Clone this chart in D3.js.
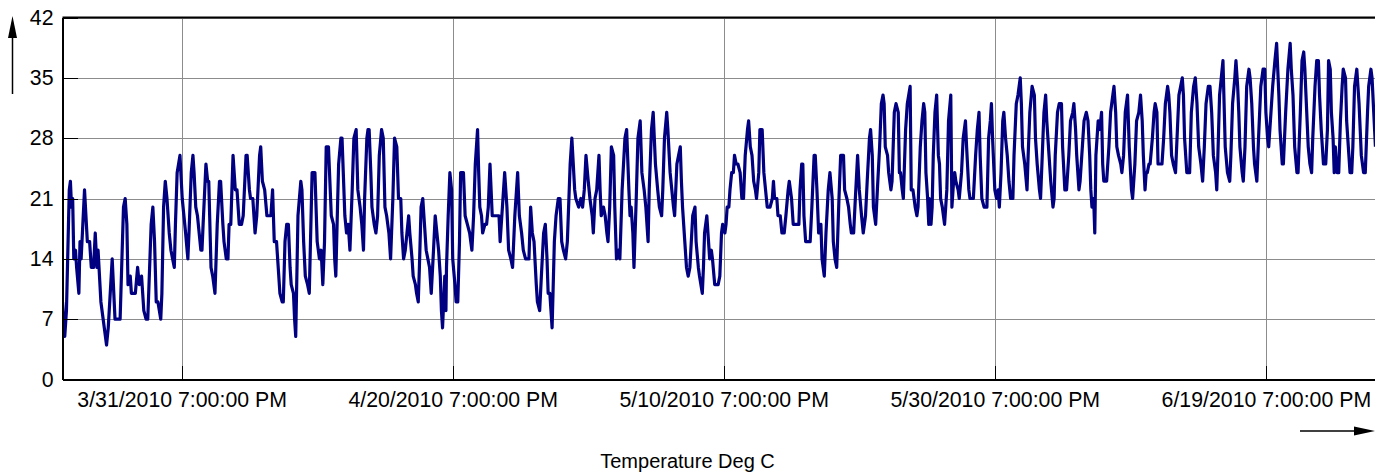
<!DOCTYPE html>
<html>
<head>
<meta charset="utf-8">
<title>Temperature Deg C</title>
<script src="https://cdnjs.cloudflare.com/ajax/libs/d3/7.8.5/d3.min.js"></script>
<style>
body { margin: 0; background: #fff; }
svg { display: block; font-family: "Liberation Sans", Arial, sans-serif; }
.grid line { stroke: #8c8c8c; stroke-width: 1; shape-rendering: crispEdges; }
.axis text { font-size: 21.3px; fill: #000; }
.axis .tick line { stroke: #000; stroke-width: 1; shape-rendering: crispEdges; }
.axis path.domain { stroke: #000; stroke-width: 2; }
</style>
</head>
<body>
<div id="chart"></div>
<script>

// time span of the record (UTC used so no DST shift)
var startTime = "2010-03-23T00:00";
var endTime = "2010-06-27T22:00";

var tickTimes = ["2010-03-31T19:00", "2010-04-20T19:00", "2010-05-10T19:00",
                 "2010-05-30T19:00", "2010-06-19T19:00"];
var yTicks = [0, 7, 14, 21, 28, 35, 42];
var axisTitle = "Temperature Deg C";

// [hours since startTime, deg C] (turning points)
var readings = [
  [0,9],[4,5],[7,8],[12,22],[14,23],[16,20],[18,21],[20,14],[23,15],[25,13],[29,10],[31,16],
  [33,14],[36,18],[39,22],[44,16],[48,16],[51,13],[55,13],[58,17],[61,13],[63,15],[68,9],
  [74,6],[78,4],[81,6],[88,14],[93,7],[102,7],[108,20],[111,21],[114,18],[116,11],[120,12],
  [122,10],[129,10],[133,13],[136,11],[140,12],[144,8],[148,7],[151,7],[157,18],[160,20],
  [163,16],[166,9],[169,9],[174,7],[176,10],[179,20],[182,23],[185,21],[189,17],[192,15],
  [195,14],[198,13],[200,18],[203,24],[208,26],[212,21],[215,19],[218,17],[222,14],[224,17],
  [228,24],[231,26],[233,24],[236,20],[239,19],[245,15],[247,15],[249,18],[254,25],[257,23],
  [259,23],[263,13],[266,12],[270,10],[272,14],[274,18],[278,23],[280,23],[284,18],[286,16],
  [290,14],[293,14],[295,18],[298,18],[302,26],[306,22],[309,22],[313,18],
  [317,18],[320,19],[325,26],[327,26],[331,22],[333,21],[337,21],[341,17],[344,19],[349,26],
  [351,27],[354,23],[358,22],[362,19],[369,19],[372,22],[375,16],[379,16],[383,12],[385,10],
  [389,9],[391,9],[394,16],[397,18],[400,18],[403,13],[405,11],[409,10],[411,7],[413,5],
  [417,19],[422,23],[424,22],[427,16],[430,12],[434,11],[437,10],[442,24],[447,24],[451,16],
  [455,14],[458,15],[461,11],[464,16],[467,27],[471,27],[476,19],[480,18],[482,14],[484,12],
  [487,20],[489,25],[493,28],[495,28],[500,19],[503,17],[506,18],[509,15],[513,22],[516,28],
  [520,29],[523,22],[527,20],[530,18],[533,15],[535,21],[539,28],[541,29],[543,29],[546,24],
  [548,20],[552,18],[555,17],[558,19],[561,26],[565,29],[568,28],[571,20],[574,19],[578,17],
  [581,14],[585,21],[588,28],[592,27],[595,21],[599,21],[601,17],[604,14],[607,15],[610,17],
  [613,19],[615,17],[619,14],[621,12],[625,11],[627,10],[630,9],[632,13],[635,20],[638,21],
  [640,19],[644,15],[647,14],[650,13],[653,10],[657,15],[660,19],[663,17],[666,15],[669,12],
  [671,8],[673,6],[677,12],[679,8],[680,13],[683,19],[686,24],[689,22],[691,14],[695,11],
  [697,9],[700,9],[703,16],[705,24],[710,24],
  [713,19],[717,18],[721,17],[725,15],[728,19],[731,25],[735,29],[737,24],[739,20],[742,19],
  [744,17],[748,18],[751,18],[754,20],[757,25],[761,19],[764,19],[769,19],[773,19],[775,16],
  [778,19],[783,24],[787,20],[790,15],[794,14],[797,13],[801,19],[806,24],[809,19],[813,17],
  [816,15],[820,14],[826,14],[829,20],[832,17],[835,16],[839,11],[841,9],[845,8],[848,12],
  [852,17],[855,18],[858,14],[860,10],[863,10],[867,6],[871,16],[874,19],[878,21],[881,21],
  [884,16],[887,15],[891,14],[894,16],[899,25],[902,28],[907,22],[909,21],[914,20],[918,21],
  [921,20],[924,22],[927,26],[931,23],[934,21],[938,19],[940,17],[943,21],[946,22],[950,26],
  [952,22],[954,19],[958,20],[961,19],[964,17],[966,16],[969,20],[972,27],[976,26],[978,20],
  [981,14],[985,15],[987,14],[991,22],[996,28],[999,29],[1003,22],[1005,19],[1007,20],
  [1010,17],[1012,13],[1016,21],[1019,28],[1023,30],[1026,24],[1030,22],[1033,20],[1037,16],
  [1039,22],[1043,29],[1046,31],[1050,25],[1054,22],[1057,20],[1061,19],[1063,22],[1066,28],
  [1070,31],[1072,29],[1076,24],[1079,22],[1082,20],[1084,19],[1088,25],[1091,26],[1094,27],
  [1096,23],[1098,20],[1102,16],[1105,13],[1108,12],[1111,13],[1116,19],[1120,20],[1122,16],
  [1126,13],[1128,12],
  [1133,10],[1135,13],[1137,17],[1141,19],[1143,17],[1146,14],[1149,15],[1151,14],[1155,11],
  [1161,11],[1164,12],[1167,17],[1169,18],[1173,17],[1175,18],[1177,20],[1180,20],[1182,22],
  [1185,24],[1188,24],[1190,26],[1193,25],[1196,25],[1200,24],[1203,21],[1206,21],[1209,26],
  [1213,29],[1215,30],[1218,27],[1221,26],[1224,23],[1227,22],[1229,21],[1233,24],[1235,29],
  [1239,29],[1242,24],[1245,22],[1248,20],[1253,20],[1257,21],[1259,23],[1261,21],[1265,21],
  [1267,19],[1271,19],[1274,17],[1278,17],[1281,19],[1285,22],[1287,23],[1291,21],[1294,18],
  [1304,18],[1306,22],[1309,25],[1311,25],[1313,19],[1316,16],[1324,16],[1327,20],[1331,26],
  [1333,26],[1336,22],[1339,17],[1343,18],[1345,14],[1349,12],[1352,17],[1356,22],[1359,24],
  [1363,21],[1365,16],[1368,14],[1371,13],[1375,21],[1378,26],[1383,26],[1385,22],[1389,21],
  [1392,20],[1395,18],[1397,17],[1401,17],[1404,21],[1408,26],[1411,22],[1415,19],[1418,17],
  [1422,19],[1425,23],[1429,28],[1431,29],[1434,26],[1436,20],[1440,18],[1443,22],[1447,27],
  [1450,32],[1453,33],[1455,32],[1457,27],[1461,26],[1463,24],[1467,22],[1469,23],[1473,31],
  [1476,32],[1480,31],[1482,24],[1484,24],[1487,22],[1489,21],[1493,29],[1496,32],[1501,34],
  [1503,22],[1506,22],[1508,21],[1510,20],[1513,19],[1515,20],[1519,27],[1522,30],[1525,32],
  [1527,31],[1529,24],[1532,21],[1534,18],
  [1535,21],[1538,18],[1540,20],[1542,26],[1545,31],[1548,33],[1551,26],[1553,25],[1555,21],
  [1558,20],[1560,19],[1562,18],[1566,22],[1569,30],[1573,33],[1575,20],[1578,23],[1580,24],
  [1582,23],[1586,22],[1588,21],[1592,24],[1595,28],[1599,30],[1601,27],[1605,22],[1607,21],
  [1613,21],[1617,26],[1620,29],[1623,31],[1625,26],[1628,21],[1632,20],[1637,20],[1640,28],
  [1643,30],[1645,32],[1647,28],[1651,22],[1654,21],[1657,22],[1659,20],[1662,24],[1665,30],
  [1667,31],[1670,28],[1673,26],[1676,23],[1679,21],[1683,21],[1685,26],[1689,32],[1692,33],
  [1696,35],[1698,32],[1700,27],[1704,25],[1708,22],[1710,26],[1713,31],[1717,34],[1721,33],
  [1723,28],[1726,25],[1730,22],[1732,21],[1735,26],[1738,31],[1741,33],[1743,30],[1747,26],
  [1750,23],[1754,20],[1756,21],[1758,26],[1762,31],[1765,32],[1769,32],[1771,27],[1775,22],
  [1778,22],[1782,26],[1785,30],[1789,31],[1791,32],[1794,29],[1796,26],[1800,22],[1802,23],
  [1806,27],[1809,30],[1813,31],[1816,30],[1819,26],[1821,22],[1823,20],[1826,21],[1828,17],
  [1830,26],[1834,30],[1837,29],[1840,31],[1842,25],[1844,23],[1849,23],[1853,27],[1856,31],
  [1860,33],[1862,34],[1865,31],[1867,27],[1870,26],[1874,25],[1876,24],[1879,26],[1882,31],
  [1886,33],[1889,27],[1893,22],[1895,21],[1899,25],[1902,30],[1906,31],[1909,33],[1912,30],
  [1914,26],[1917,22],[1919,24],[1921,24],[1924,25],[1926,25],[1930,28],[1933,31],[1935,32],
  [1938,31],[1940,25],
  [1945,25],[1947,25],[1950,28],[1953,32],[1957,34],[1959,33],[1961,31],[1964,26],[1967,25],
  [1971,24],[1973,27],[1977,33],[1980,34],[1983,35],[1985,33],[1987,28],[1991,24],[1996,24],
  [1999,31],[2003,34],[2006,35],[2009,32],[2012,27],[2016,25],[2019,23],[2022,27],[2025,32],
  [2029,34],[2032,34],[2035,31],[2038,26],[2042,24],[2044,22],[2046,26],[2049,33],[2052,35],
  [2055,37],[2057,32],[2059,27],[2063,24],[2067,23],[2069,26],[2072,32],[2076,35],[2078,37],
  [2081,34],[2083,31],[2085,27],[2089,24],[2091,23],[2094,27],[2097,34],[2101,36],[2103,35],
  [2106,32],[2109,27],[2111,25],[2115,23],[2118,28],[2122,34],[2126,36],[2129,36],[2131,31],
  [2134,28],[2136,27],[2140,31],[2143,34],[2147,37],[2150,39],[2154,33],[2156,29],[2160,25],
  [2162,25],[2166,31],[2170,36],[2174,39],[2176,36],[2179,33],[2182,27],[2186,24],[2188,24],
  [2192,31],[2195,37],[2198,38],[2200,36],[2202,33],[2206,27],[2209,25],[2212,24],[2214,28],
  [2218,34],[2221,37],[2224,37],[2226,33],[2229,29],[2233,25],[2237,25],[2240,29],[2242,37],
  [2245,36],[2247,31],[2250,28],[2252,24],[2254,27],[2257,24],[2260,24],[2263,30],[2266,34],
  [2268,36],[2272,35],[2274,30],[2278,26],[2280,24],[2283,24],[2285,27],[2288,34],[2292,36],
  [2296,32],[2298,29],[2300,26],[2304,24],[2307,24],[2311,31],[2313,34],[2317,36],[2319,35],
  [2322,31],[2325,27]
];

var width = 1375, height = 475;
var plot = {left: 62.5, top: 17.5, right: 1376, bottom: 379.5};

var parseTime = d3.utcParse("%Y-%m-%dT%H:%M");
var t0 = parseTime(startTime);
function toDate(h) { return new Date(t0.getTime() + h * 3600 * 1000); }

var x = d3.scaleUtc()
    .domain([t0, parseTime(endTime)])
    .range([plot.left, plot.right]);

var y = d3.scaleLinear()
    .domain([0, 42])
    .range([plot.bottom, plot.top]);

var tickDates = tickTimes.map(parseTime);

var svg = d3.select("#chart").append("svg")
    .attr("width", width)
    .attr("height", height);

// grid
var grid = svg.append("g").attr("class", "grid");
grid.selectAll(".hgrid")
    .data(yTicks)
  .enter().append("line")
    .attr("x1", plot.left).attr("x2", plot.right)
    .attr("y1", function(d) { return Math.round(y(d)) + 0.5; })
    .attr("y2", function(d) { return Math.round(y(d)) + 0.5; });
grid.selectAll(".vgrid")
    .data(tickDates)
  .enter().append("line")
    .attr("y1", plot.top).attr("y2", plot.bottom)
    .attr("x1", function(d) { return Math.round(x(d)) + 0.5; })
    .attr("x2", function(d) { return Math.round(x(d)) + 0.5; });

// data line
svg.append("clipPath").attr("id", "clip")
  .append("rect")
    .attr("x", plot.left).attr("y", plot.top)
    .attr("width", plot.right - plot.left).attr("height", plot.bottom - plot.top);

var line = d3.line()
    .x(function(d) { return x(toDate(d[0])); })
    .y(function(d) { return y(d[1]); });

svg.append("path")
    .datum(readings)
    .attr("clip-path", "url(#clip)")
    .attr("fill", "none")
    .attr("stroke", "#000080")
    .attr("stroke-width", 3.2)
    .attr("stroke-linejoin", "round")
    .attr("d", line);

// axes (ticks point inward)
svg.append("g")
    .attr("class", "axis")
    .attr("transform", "translate(0," + plot.bottom + ")")
    .call(d3.axisBottom(x)
      .tickValues(tickDates)
      .tickSizeInner(-14)
      .tickSizeOuter(0)
      .tickPadding(12)
      .tickFormat(d3.utcFormat("%-m/%-d/%Y %-I:%M:%S %p")));

svg.append("g")
    .attr("class", "axis")
    .attr("transform", "translate(" + plot.left + ",0)")
    .call(d3.axisLeft(y)
      .tickValues(yTicks)
      .tickSizeInner(-15)
      .tickSizeOuter(0)
      .tickPadding(9)
      .tickFormat(d3.format("d")));

svg.selectAll(".axis text").attr("font-family", null);

// top frame line
svg.append("line")
    .attr("x1", plot.left).attr("x2", plot.right)
    .attr("y1", plot.top).attr("y2", plot.top)
    .attr("stroke", "#000").attr("stroke-width", 2);

// arrows
svg.append("line")
    .attr("x1", 12.5).attr("x2", 12.5).attr("y1", 94).attr("y2", 34)
    .attr("stroke", "#000").attr("stroke-width", 1.5);
svg.append("path")
    .attr("d", "M12.5,16L8,38L17,38Z")
    .attr("fill", "#000");

svg.append("line")
    .attr("x1", 1300).attr("x2", 1358).attr("y1", 431).attr("y2", 431)
    .attr("stroke", "#000").attr("stroke-width", 1.5);
svg.append("path")
    .attr("d", "M1375,431L1354,426.5L1354,435.5Z")
    .attr("fill", "#000");

svg.append("text")
    .attr("x", width / 2)
    .attr("y", 468)
    .attr("text-anchor", "middle")
    .style("font-size", "20px")
    .text(axisTitle);

</script>
</body>
</html>
